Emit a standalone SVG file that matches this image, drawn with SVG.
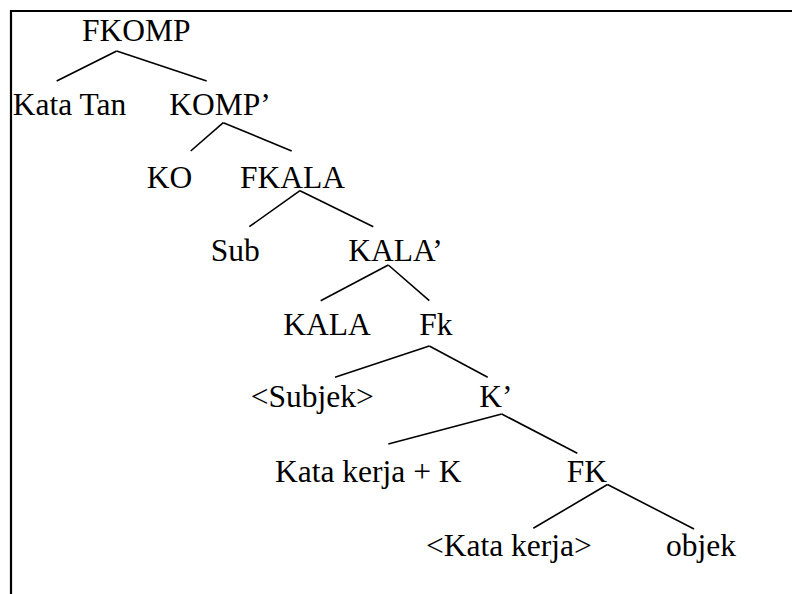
<svg xmlns="http://www.w3.org/2000/svg" width="792" height="594" viewBox="0 0 792 594">
<style>
text{font-family:"Liberation Serif","Times New Roman",serif;font-size:31.5px;fill:#000}
.e{stroke:#000;stroke-width:1.6;fill:none}
.b{stroke:#000;stroke-width:2.2;fill:none}
</style>
<rect width="792" height="594" fill="#fff"/>
<path class="b" d="M11,594 V11 H792"/>
<g id="connectors">
<line class="e" x1="116.7" y1="51" x2="56.7" y2="81"/>
<line class="e" x1="116.7" y1="51" x2="206.7" y2="81"/>
<line class="e" x1="223.3" y1="122.7" x2="190.7" y2="151"/>
<line class="e" x1="223.3" y1="122.7" x2="291.7" y2="151"/>
<line class="e" x1="300" y1="190.7" x2="249.3" y2="226.7"/>
<line class="e" x1="300" y1="190.7" x2="373.3" y2="226.7"/>
<line class="e" x1="388.3" y1="265" x2="320.7" y2="300.7"/>
<line class="e" x1="388.3" y1="265" x2="429.3" y2="300.7"/>
<line class="e" x1="429.3" y1="346" x2="335" y2="377.3"/>
<line class="e" x1="429.3" y1="346" x2="487.7" y2="377.3"/>
<line class="e" x1="501.7" y1="414" x2="388.3" y2="444"/>
<line class="e" x1="501.7" y1="414" x2="577.3" y2="453.3"/>
<line class="e" x1="607.5" y1="484.5" x2="533.3" y2="528.3"/>
<line class="e" x1="607.5" y1="484.5" x2="694" y2="529"/>
</g>
<g id="n-fkomp"><text x="82" y="41">FKOMP</text></g>
<g id="n-katatan"><text x="12.7" y="115">Kata Tan</text></g>
<g id="n-komp1"><text x="169.3" y="115">KOMP’</text></g>
<g id="n-ko"><text x="146.7" y="188.3">KO</text></g>
<g id="n-fkala"><text x="240" y="188.3">FKALA</text></g>
<g id="n-sub"><text x="210.7" y="260.7">Sub</text></g>
<g id="n-kala1"><text x="348.3" y="260.7">KALA’</text></g>
<g id="n-kala"><text x="283.3" y="335">KALA</text></g>
<g id="n-fk1"><text x="419.3" y="335">Fk</text></g>
<g id="n-subjek"><text x="250.7" y="406.7">&lt;Subjek&gt;</text></g>
<g id="n-k1"><text x="479.3" y="406.7">K’</text></g>
<g id="n-katakerjak"><text x="275" y="481.7">Kata kerja + K</text></g>
<g id="n-fk2"><text x="566.7" y="481.7">FK</text></g>
<g id="n-katakerja"><text x="426" y="556">&lt;Kata kerja&gt;</text></g>
<g id="n-objek"><text x="666" y="556">objek</text></g>
</svg>
